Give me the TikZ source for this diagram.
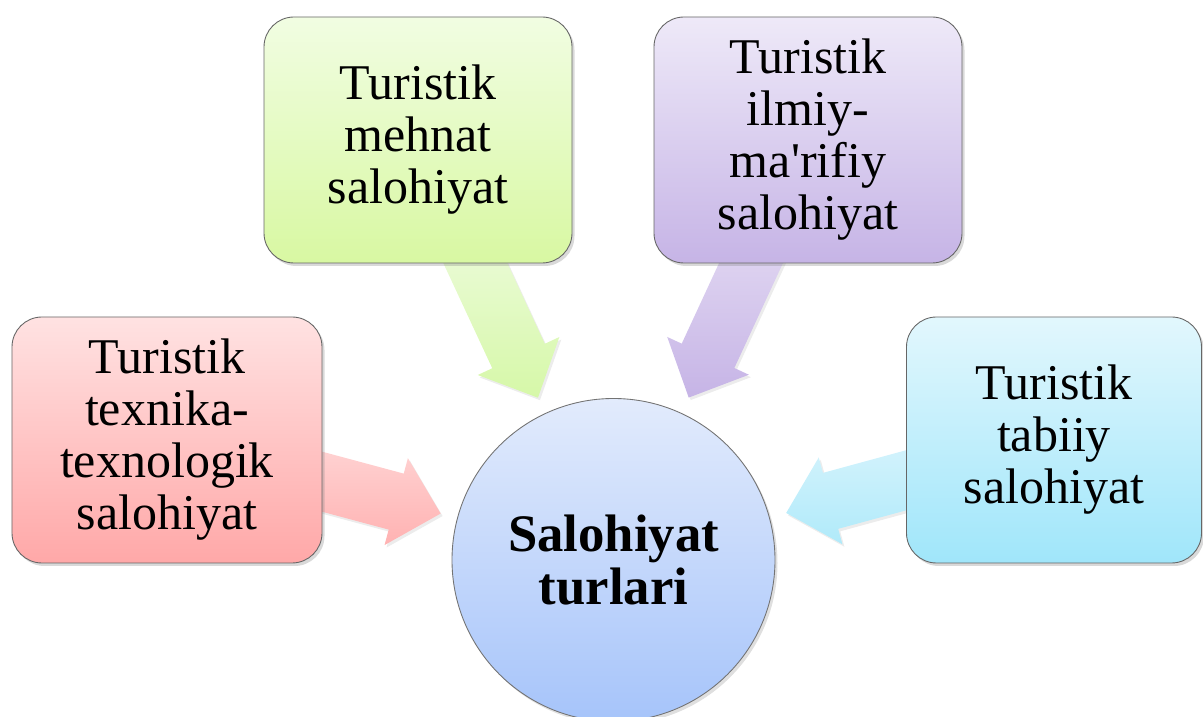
\documentclass[tikz,border=0pt]{standalone}
\usepackage{fontspec}
\setmainfont{Liberation Serif}
\usetikzlibrary{calc}
\usetikzlibrary{shadows}
\usetikzlibrary{backgrounds}

\definecolor{redtop}{RGB}{255,226,226}
\definecolor{redbot}{RGB}{255,168,168}
\definecolor{greentop}{RGB}{241,253,226}
\definecolor{greenbot}{RGB}{216,248,162}
\definecolor{violettop}{RGB}{238,233,248}
\definecolor{violetbot}{RGB}{198,180,230}
\definecolor{cyantop}{RGB}{226,247,253}
\definecolor{cyanbot}{RGB}{160,230,250}
\definecolor{hubtop}{RGB}{226,235,252}
\definecolor{hubbot}{RGB}{166,196,250}
\definecolor{redarrtop}{RGB}{255,212,212}
\definecolor{redarrbot}{RGB}{255,178,178}
\definecolor{greenarrtop}{RGB}{236,251,218}
\definecolor{greenarrbot}{RGB}{214,248,168}
\definecolor{violetarrtop}{RGB}{226,216,242}
\definecolor{violetarrbot}{RGB}{198,180,230}
\definecolor{cyanarrtop}{RGB}{212,243,252}
\definecolor{cyanarrbot}{RGB}{176,234,250}

\begin{document}
\begin{tikzpicture}[box/.style={rectangle,rounded corners=0.6cm,draw=black!60,line width=0.5pt,minimum width=6.16cm,minimum height=4.92cm,align=center,font=\fontsize{28.45}{29.6}\selectfont,drop shadow={opacity=0.3,shadow xshift=0.05cm,shadow yshift=-0.06cm}},
	hub/.style={circle,draw=black!55,line width=0.5pt,minimum size=6.46cm,align=center,font=\fontsize{30}{30.2}\selectfont\bfseries,top color=hubtop,bottom color=hubbot,drop shadow={opacity=0.25,shadow xshift=0.05cm,shadow yshift=-0.06cm}}]
	\useasboundingbox (0,0) rectangle (24.06,14.34);
	\node (circ) [hub] at (12.27,3.14) {Salohiyat\\turlari};
	\node (texnika) [box,minimum width=6.2cm,top color=redtop,bottom color=redbot] at (3.34,5.54) {Turistik\\texnika-\\texnologik\\salohiyat};
	\node (mehnat) [box,top color=greentop,bottom color=greenbot] at (8.36,11.54) {Turistik\\mehnat\\salohiyat};
	\node (ilmiy) [box,top color=violettop,bottom color=violetbot] at (16.16,11.54) {Turistik\\ilmiy-\\ma\textquotesingle rifiy\\salohiyat};
	\node (tabiiy) [box,minimum width=5.9cm,top color=cyantop,bottom color=cyanbot] at (21.08,5.54) {Turistik\\tabiiy\\salohiyat};
	\begin{scope}[on background layer]
		\foreach \src/\tc/\bc in {texnika/redarrtop/redarrbot,mehnat/greenarrtop/greenarrbot,ilmiy/violetarrtop/violetarrbot,tabiiy/cyanarrtop/cyanarrbot}{
			\coordinate (start) at ($(\src.center)!0.25!(circ.center)$);
			\coordinate (tip) at ($(circ.center)!3.58cm!(\src.center)$);
			\coordinate (base) at ($(tip)!0.92cm!(start)$);
			\shade[top color=\tc,bottom color=\bc,drop shadow={opacity=0.15,shadow xshift=0.04cm,shadow yshift=-0.05cm}]
				($(start)!0.58cm!90:(tip)$) -- ($(base)!0.58cm!90:(tip)$) -- ($(base)!0.9cm!90:(tip)$) -- (tip)
				-- ($(base)!0.9cm!-90:(tip)$) -- ($(base)!0.58cm!-90:(tip)$) -- ($(start)!0.58cm!-90:(tip)$) -- cycle;
		}
	\end{scope}
\end{tikzpicture}
\end{document}
